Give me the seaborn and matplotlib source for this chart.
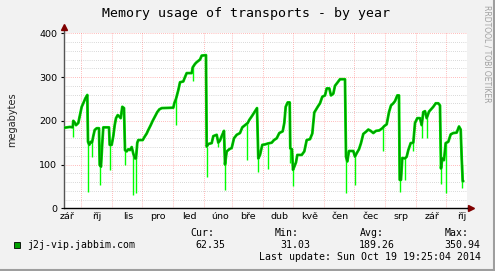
import numpy as np
import pandas as pd
import matplotlib
matplotlib.use("Agg")
import matplotlib.pyplot as plt
from matplotlib.lines import Line2D
import seaborn as sns

# ---------------- data ----------------
START = pd.Timestamp("2013-09-14 07:00")
SPAN_DAYS = 402.7

days = [0, 6, 8.7, 9.3, 11, 12, 14.3, 16, 17.7, 19.3, 21.3, 23.3, 24, 25.3, 26.7, 28, 29.3, 30.7,
        32.7, 35, 35.7, 37, 38.3, 39.3, 45, 45.7, 47.7, 49.3, 50.7, 52, 53.7, 55.3, 56.7, 58.3, 60,
        61, 62.7, 64.3, 66, 67.7, 69.3, 71, 72, 73.3, 74.3, 78.7, 81, 82.7, 84.3, 86.7, 88.7, 91,
        93.3, 95.3, 97.7, 109.3, 110.3, 112, 114.3, 116, 119.3, 121, 122.7, 127.7, 128.7, 131,
        132.7, 136, 137.7, 142, 142.7, 144.3, 147.7, 149.3, 152.7, 154.3, 156, 157.7, 160, 161,
        162.7, 165.3, 167.7, 170, 172.7, 176, 178.3, 181, 183.7, 185.3, 188.3, 191, 193, 194.3,
        196, 198.3, 201, 203.7, 207.7, 210, 212.7, 215.3, 218.7, 220.3, 221.7, 223.7, 225.7,
        226.3, 228, 229, 230.3, 232, 233.3, 237.7, 240.3, 242.7, 246, 248.3, 250.3, 253.7, 256,
        258.3, 261, 262.7, 265.3, 267, 269.3, 271, 273.7, 276, 281, 282, 283.3, 285, 289.3, 291,
        292.7, 295, 297, 299.3, 302, 304.3, 306.7, 309.3, 312, 315.3, 318.3, 320.3, 322.7, 325,
        327, 329.3, 331, 333.3, 335, 335.7, 337, 338.3, 341, 342.7, 344.3, 346.7, 349.3, 351,
        353.3, 356, 357.7, 359.3, 361, 362.7, 365, 367, 369.3, 371.7, 374.3, 376, 377, 378.3,
        380, 381.7, 384.3, 386.7, 389.3, 392.7, 395, 396.7, 397.7, 398.7, 399.3]
avg_mb = [184, 186, 185, 200, 195, 190, 195, 213, 232, 240, 251, 259, 152, 145, 152, 150, 165, 179,
          183, 183, 99, 95, 150, 185, 185, 145, 145, 165, 190, 206, 213, 210, 206, 232, 229,
          133, 130, 135, 133, 140, 125, 114, 114, 150, 156, 156, 165, 171, 179, 190, 200, 210,
          220, 226, 229, 230, 240, 250, 270, 288, 290, 300, 309, 309, 322, 330,
          334, 340, 349, 350, 141, 147, 149, 165, 168, 150, 155, 165, 177, 100,
          130, 135, 138, 160, 168, 172, 185, 190, 195, 202, 212, 222, 229, 114,
          122, 145, 146, 148, 150, 156, 160, 172, 176, 195, 232, 242, 242,
          137, 135, 88, 95, 105, 122, 122, 130, 156, 158, 171, 219, 232, 240,
          255, 258, 274, 274, 258, 262, 280, 288, 295, 295, 118, 107, 131, 131, 118,
          126, 135, 149, 170, 175, 180, 177, 172, 177, 178, 183, 188, 192, 220,
          235, 240, 245, 258, 258, 65, 65, 115, 114, 118, 133, 149, 150, 195,
          206, 206, 190, 220, 222, 206, 221, 226, 232, 240, 240, 235, 91, 114,
          110, 149, 152, 169, 172, 173, 187, 180, 114, 62, 62]

spike_days = [8.7, 24, 28, 35.7, 45.7, 61, 69.3, 72, 112, 128.7, 142.7, 154.3, 161.3, 183.3, 194.3,
              203.7, 226.3, 229.3, 282, 291, 319.3, 336, 341, 349.3, 357.7, 362.7, 377, 381.7, 398]
spike_min = [164, 38, 118, 53, 88, 100, 30, 35, 190, 290, 72, 140, 42, 110, 84,
             90, 103, 50, 34, 53, 130, 38, 65, 130, 160, 160, 55, 34, 46]

month_labels = ["zář", "říj", "lis", "pro", "led", "úno", "bře", "dub", "kvě", "čen", "čec", "srp", "zář", "říj"]
legend_name = "j2j-vip.jabbim.com"
stat_names = ["Cur:", "Min:", "Avg:", "Max:"]
stat_values = ["62.35", "31.03", "189.26", "350.94"]
title = "Memory usage of transports - by year"
last_update = "Last update: Sun Oct 19 19:25:04 2014"

# ---------------- figure ----------------
W, H = 495, 271
sns.set_theme(style="white")
plt.rcParams["font.family"] = ["DejaVu Sans"]
BG = "#F2F2F2"
fig = plt.figure(figsize=(W / 100, H / 100), dpi=100, facecolor=BG)

def fx(x):
    return x / W

def fy(y):
    return 1 - y / H

ax_l, ax_r, ax_t, ax_b = 64, 466.7, 33.3, 208.3
ax = fig.add_axes([fx(ax_l), fy(ax_b), (ax_r - ax_l) / W, (ax_b - ax_t) / H])
ax.set_facecolor("white")
ax.set_xlim(0, SPAN_DAYS)
ax.set_ylim(0, 400)

dot = (0, (0.72, 1.44))
for v in range(20, 400, 20):
    if v % 100:
        ax.axhline(v, color=(0.55, 0.55, 0.55, 0.45), lw=0.7, ls=dot, zorder=0)
for v in range(100, 401, 100):
    ax.axhline(v, color=(1, 0.2, 0.2, 0.45), lw=0.7, ls=dot, zorder=0)

month_starts = pd.date_range("2013-09-01", "2014-10-01", freq="MS")
ms_days = np.array([(m - START) / pd.Timedelta(days=1) for m in month_starts])
for d in ms_days:
    if 0 < d < SPAN_DAYS:
        ax.axvline(d, color=(1, 0.2, 0.2, 0.45), lw=0.7, ls=dot, zorder=0)

df = pd.DataFrame({"day": days, "mb": avg_mb})
tops = np.interp(spike_days, days, avg_mb)
ax.vlines(spike_days, spike_min, tops, color="#00FF00", lw=1.0, zorder=2)
sns.lineplot(data=df, x="day", y="mb", ax=ax, color="#00F000", linewidth=2.0,
             estimator=None, sort=False, zorder=3)
sns.lineplot(data=df, x="day", y="mb", ax=ax, color="#009A00", linewidth=1.2,
             estimator=None, sort=False, zorder=4)

ax.set_xlabel("")
ax.set_ylabel("")
ax.set_yticks([0, 100, 200, 300, 400])
ax.set_yticklabels(["0", "100", "200", "300", "400"])
ax.set_xticks(ms_days + 16.5)
ax.set_xticklabels(month_labels)
ax.tick_params(axis="y", length=2, width=0.8, pad=3, labelsize=6.8, colors="black", left=True)
ax.tick_params(axis="x", length=0, pad=3, labelsize=6.8, colors="black")
for s in ["top", "right"]:
    ax.spines[s].set_visible(False)
ax.spines["left"].set_color("#555555")
ax.spines["left"].set_linewidth(1.0)
ax.spines["bottom"].set_color("#000000")
ax.spines["bottom"].set_linewidth(1.0)

ax.plot([0, 0], [1, 1.035], transform=ax.transAxes, color="#555555", lw=1.0, clip_on=False)
ax.plot([0], [1.035], transform=ax.transAxes, marker="^", color="#800000", ms=4, clip_on=False)
ax.plot([1, 1.0107], [0, 0], transform=ax.transAxes, color="#000000", lw=1.0, clip_on=False)
ax.plot([1.0107], [0], transform=ax.transAxes, marker=">", color="#800000", ms=4, clip_on=False)

fig.text(fx(246.5), fy(14), title, family="DejaVu Sans Mono", fontsize=9.5,
         ha="center", va="center", color="black")
fig.text(fx(11.7), fy(120), "megabytes", rotation=90, fontsize=7, ha="center", va="center")
fig.text(fx(487.5), fy(5), "RRDTOOL / TOBI OETIKER", rotation=270, fontsize=5.5,
         ha="center", va="top", color="#A0A0A0")

mono = dict(family="DejaVu Sans Mono", fontsize=7.1, color="black", va="center")
fig.patches.append(plt.Rectangle((fx(13.5), fy(248)), 6 / W, 6 / H, transform=fig.transFigure,
                                 facecolor="#00A000", edgecolor="black", lw=0.6))
fig.text(fx(26.7), fy(245), legend_name, ha="left", **mono)
name_x = [190, 274.3, 360, 445]
val_right = [225, 310, 395, 480]
for nx, vr, n, v in zip(name_x, val_right, stat_names, stat_values):
    fig.text(fx(nx), fy(233.5), n, ha="left", **mono)
    fig.text(fx(vr), fy(245), v, ha="right", **mono)
fig.text(fx(480.7), fy(257.5), last_update, ha="right", **mono)

fig.add_artist(Line2D([0, 1], [fy(H - 1), fy(H - 1)], transform=fig.transFigure, color="#9E9E9E", lw=1.5))
fig.add_artist(Line2D([fx(W - 1), fx(W - 1)], [0, 1], transform=fig.transFigure, color="#9E9E9E", lw=1.5))

fig.savefig("out.png", dpi=100, facecolor=BG)
